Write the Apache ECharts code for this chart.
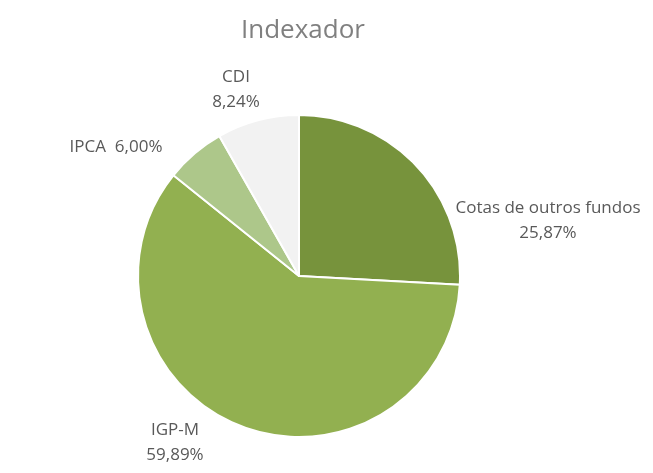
<!DOCTYPE html>
<html>
<head>
<meta charset="utf-8">
<script src="https://cdn.jsdelivr.net/npm/echarts@6/dist/echarts.min.js"></script>
<style>
  html, body { margin: 0; padding: 0; background: #fff; }
  #chart { width: 653px; height: 473px; }
</style>
</head>
<body>
<div id="chart"></div>
<script>
var categories = ['Cotas de outros fundos', 'IGP-M', 'IPCA', 'CDI'];
var values = [25.87, 59.89, 6.00, 8.24];
var colors = ['#77933C', '#92B050', '#ADC78A', '#F2F2F2'];

var chart = echarts.init(document.getElementById('chart'));

// label anchors (centre of each label block), same order as categories
var labelSpots = [[548, 221], [175, 443], [116, 147], [236, 90]];

var option = {
    title: {
        text: 'Indexador',
        left: 236,
        top: 13,
        textStyle: {
            fontFamily: 'Open Sans',
            fontSize: 26,
            fontWeight: 'normal',
            color: '#808080'
        }
    },
    series: [{
        type: 'pie',
        center: [299, 276],
        radius: 161,
        startAngle: 90,
        clockwise: true,
        animation: false,
        data: categories.map(function (c, i) {
            return { name: c, value: values[i], itemStyle: { color: colors[i] } };
        }),
        itemStyle: {
            borderColor: '#fff',
            borderWidth: 2
        },
        label: {
            show: true,
            position: 'outside',
            overflow: 'none',
            edgeDistance: 0,
            fontFamily: 'Open Sans',
            fontSize: 17,
            color: '#595959',
            lineHeight: 25,
            align: 'center',
            formatter: function (p) {
                var v = p.value.toFixed(2).replace('.', ',') + '%';
                if (p.name === 'IPCA') return p.name + '  ' + v;
                return p.name + '\n' + v;
            }
        },
        labelLine: { show: false },
        labelLayout: function (params) {
            var s = labelSpots[params.dataIndex];
            return { x: s[0], y: s[1], align: 'center', verticalAlign: 'middle' };
        }
    }]
};

chart.setOption(option);
</script>
</body>
</html>
